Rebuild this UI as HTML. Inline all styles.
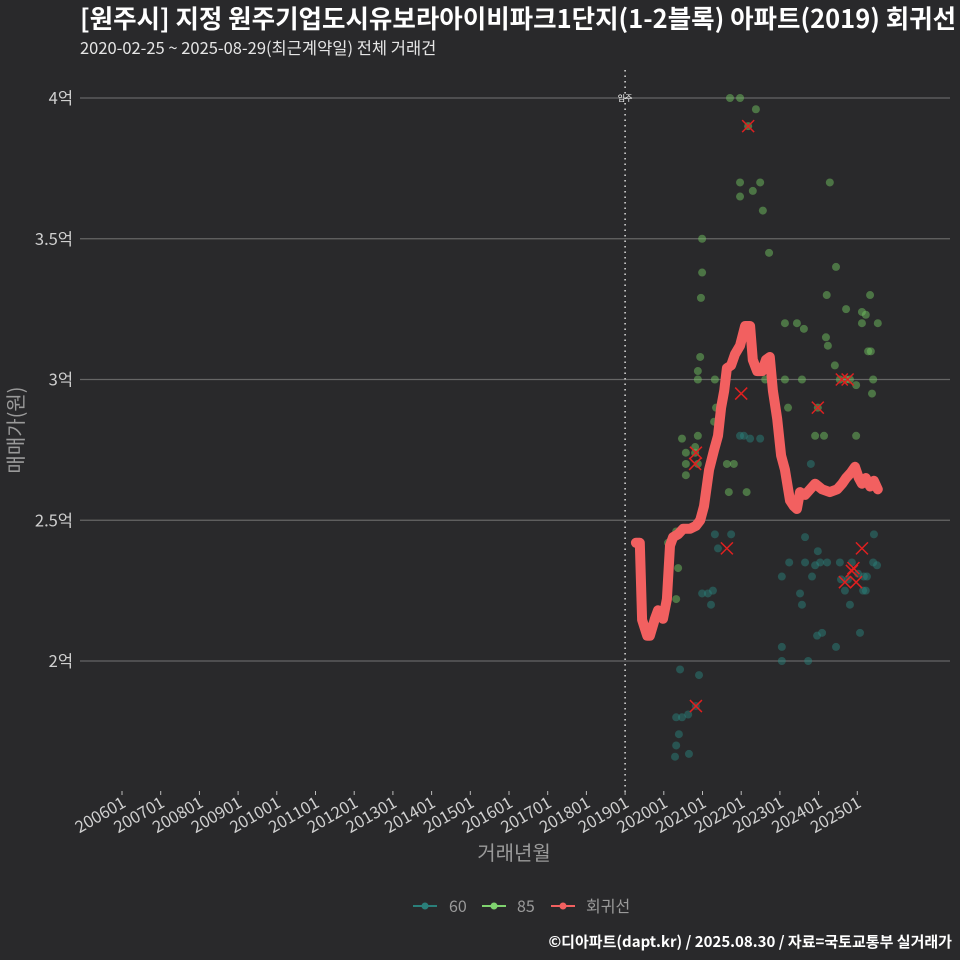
<!DOCTYPE html>
<html><head><meta charset="utf-8"><style>
body{margin:0;background:#29292b;}
svg{display:block;font-family:"Noto Sans CJK KR","Liberation Sans",sans-serif;}
</style></head><body>
<svg id="chart" width="960" height="960" viewBox="0 0 960 960" xmlns="http://www.w3.org/2000/svg">
<rect width="960" height="960" fill="#29292b"/>
<text x="80" y="28" fill="#ffffff" font-size="25.5" font-weight="bold">[원주시] 지정 원주기업도시유보라아이비파크1단지(1-2블록) 아파트(2019) 회귀선</text>
<text x="80" y="54" fill="#e6e6e6" font-size="16.5">2020-02-25 ~ 2025-08-29(최근계약일) 전체 거래건</text>
<g id="grid"></g>
<g id="xaxis"></g>
<g id="marks"></g>
<text x="514" y="860" fill="#9a9a9a" font-size="20" text-anchor="middle">거래년월</text>
<text transform="translate(23,430) rotate(-90)" fill="#9a9a9a" font-size="20" text-anchor="middle">매매가(원)</text>
<g>
<g><line x1="413" y1="906" x2="437" y2="906" stroke="#2a7f7a" stroke-width="2"/><circle cx="425" cy="906" r="3.5" fill="#2a7f7a"/><text x="449" y="912" fill="#9a9a9a" font-size="16">60</text></g>
<g><line x1="482" y1="906" x2="506" y2="906" stroke="#7fd36f" stroke-width="2"/><circle cx="494" cy="906" r="3.5" fill="#7fd36f"/><text x="517" y="912" fill="#9a9a9a" font-size="16">85</text></g>
<g><line x1="551" y1="906" x2="575" y2="906" stroke="#f26060" stroke-width="2"/><circle cx="563" cy="906" r="3.5" fill="#f26060"/><text x="586" y="912" fill="#9a9a9a" font-size="16">회귀선</text></g>
</g>
<text x="952" y="947" fill="#ffffff" font-size="15" font-weight="bold" text-anchor="end">©디아파트(dapt.kr) / 2025.08.30 / 자료=국토교통부 실거래가</text>
</svg>
<script>
const yTicks=[2,2.5,3,3.5,4];
const yTickLabels=["2억","2.5억","3억","3.5억","4억"];
const xTickYears=[2006,2007,2008,2009,2010,2011,2012,2013,2014,2015,2016,2017,2018,2019,2020,2021,2022,2023,2024,2025];
const xTickLabels=["200601","200701","200801","200901","201001","201101","201201","201301","201401","201501","201601","201701","201801","201901","202001","202101","202201","202301","202401","202501"];
const moveInYear=2019;
const g85X=[2020.88,2020.88,2020.94,2020.96,2020.99,2020.99,2021.71,2021.97,2022.38,2022.18,2021.97,2022.49,2021.97,2022.30,2022.56,2022.72,2024.29,2024.45,2024.21,2024.71,2025.12,2025.22,2025.33,2025.53,2025.12,2025.35,2025.28,2025.41,2025.38,2023.13,2023.44,2023.62,2023.13,2023.57,2022.62,2021.32,2021.35,2023.21,2023.98,2024.19,2024.24,2024.42,2024.55,2024.81,2024.71,2024.97,2023.91,2024.14,2024.97,2020.47,2020.88,2020.81,2020.57,2020.88,2020.57,2020.57,2020.81,2021.63,2021.81,2021.68,2022.14,2021.30,2020.32,2020.37,2020.32,2020.11];
const g85Y=[3.0,3.03,3.08,3.29,3.38,3.5,4.0,4.0,3.96,3.9,3.70,3.70,3.65,3.67,3.6,3.45,3.7,3.4,3.3,3.25,3.24,3.23,3.3,3.2,3.2,3.1,3.1,3.0,2.95,3.2,3.2,3.18,3.0,3.0,3.0,3.0,2.9,2.9,2.9,3.15,3.12,3.05,3.0,3.0,3.0,2.98,2.8,2.8,2.8,2.79,2.8,2.76,2.7,2.7,2.66,2.74,2.74,2.7,2.7,2.6,2.6,2.85,2.46,2.33,2.22,2.42];
const g60X=[2021.32,2021.74,2021.40,2021.27,2021.14,2020.99,2021.22,2020.42,2020.91,2020.32,2020.47,2020.63,2020.83,2020.39,2020.32,2020.29,2020.65,2021.97,2022.07,2022.23,2022.49,2023.80,2023.65,2023.98,2023.24,2023.65,2023.91,2024.04,2024.22,2024.55,2024.86,2025.41,2025.51,2025.43,2023.05,2023.83,2024.58,2024.76,2025.17,2025.02,2025.25,2025.15,2024.68,2025.22,2023.57,2023.96,2024.09,2024.45,2024.81,2025.07,2023.05,2023.05,2023.73,2023.52];
const g60Y=[2.45,2.45,2.4,2.25,2.24,2.24,2.2,1.97,1.95,1.8,1.8,1.81,1.84,1.74,1.7,1.66,1.67,2.8,2.8,2.79,2.79,2.7,2.44,2.39,2.35,2.35,2.34,2.35,2.35,2.35,2.35,2.35,2.34,2.45,2.3,2.3,2.29,2.29,2.30,2.31,2.30,2.25,2.25,2.25,2.2,2.09,2.1,2.05,2.2,2.1,2.05,2.0,2.0,2.24];
const crossX=[2022.18,2020.83,2020.81,2022.0,2023.98,2024.6,2024.75,2021.63,2020.83,2024.86,2025.12,2024.68,2024.97,2024.9];
const crossY=[3.9,2.74,2.7,2.95,2.9,3.0,3.0,2.4,1.84,2.32,2.4,2.28,2.28,2.33];
const regX=[2019.28,2019.38,2019.44,2019.57,2019.64,2019.77,2019.85,2019.98,2020.08,2020.16,2020.24,2020.37,2020.50,2020.68,2020.83,2020.94,2021.04,2021.17,2021.30,2021.40,2021.48,2021.56,2021.63,2021.74,2021.84,2021.97,2022.10,2022.23,2022.30,2022.41,2022.54,2022.64,2022.74,2022.82,2022.93,2023.03,2023.13,2023.26,2023.36,2023.44,2023.52,2023.65,2023.78,2023.91,2024.09,2024.29,2024.48,2024.61,2024.71,2024.84,2024.94,2025.04,2025.12,2025.22,2025.33,2025.43,2025.53];
const regY=[2.42,2.42,2.146,2.09,2.09,2.15,2.18,2.15,2.22,2.41,2.44,2.45,2.47,2.47,2.48,2.50,2.55,2.68,2.75,2.80,2.90,2.96,3.04,3.05,3.09,3.12,3.19,3.19,3.07,3.03,3.03,3.07,3.08,2.96,2.86,2.73,2.68,2.57,2.55,2.54,2.60,2.59,2.61,2.63,2.61,2.60,2.61,2.63,2.65,2.67,2.69,2.65,2.63,2.65,2.62,2.64,2.61];

const NS="http://www.w3.org/2000/svg";
function xs(t){return 122+(t-2006)*38.7;}
function ys(v){return 98+(4-v)*281.5;}
function mk(tag,attrs,parent){const e=document.createElementNS(NS,tag);for(const k in attrs)e.setAttribute(k,attrs[k]);parent.appendChild(e);return e;}
const grid=document.getElementById('grid'),xa=document.getElementById('xaxis'),marks=document.getElementById('marks');
yTicks.forEach((v,i)=>{
  const l=mk('line',{x1:80,x2:950,y1:ys(v),y2:ys(v),stroke:'#666',"stroke-width":1.2},grid);
  
  
  const t=mk('text',{x:73,y:ys(v)+6,fill:'#d0d0d0',"font-size":16.5,"text-anchor":"end"},grid);
  t.textContent=yTickLabels[i];
  
  
});
xTickYears.forEach((yr,i)=>{
  const x=xs(yr);
  const tk=mk('line',{x1:x,x2:x,y1:791,y2:795,stroke:'#bbb'},xa);
  
  
  const t=mk('text',{transform:`translate(${x+5},${806}) rotate(-30)`,fill:'#d0d0d0',"font-size":16.5,"text-anchor":"end"},xa);
  t.textContent=xTickLabels[i];
  
  
});
const mv=mk('line',{x1:xs(moveInYear),x2:xs(moveInYear),y1:70,y2:795,stroke:'#ddd',"stroke-width":1.5,"stroke-dasharray":"1.5,4"},grid);


const mvt=mk('text',{x:xs(moveInYear),y:101,fill:'#fff',"font-size":8,"text-anchor":"middle"},grid);
mvt.textContent='입주';


g60X.forEach((x,i)=>{
  const c=mk('circle',{cx:xs(x),cy:ys(g60Y[i]),r:4,fill:'#2a7f7a',"fill-opacity":0.5},marks);
  
  
});
g85X.forEach((x,i)=>{
  const c=mk('circle',{cx:xs(x),cy:ys(g85Y[i]),r:4,fill:'#6fbf5f',"fill-opacity":0.5},marks);
  
  
});
crossX.forEach((x,i)=>{
  const cx=xs(x),cy=ys(crossY[i]);
  const p=mk('path',{d:`M${cx-6},${cy-6}L${cx+6},${cy+6}M${cx-6},${cy+6}L${cx+6},${cy-6}`,stroke:'#e02020',"stroke-width":1.5},marks);
  
  
});
const d=regX.map((x,i)=>(i?'L':'M')+xs(x).toFixed(1)+','+ys(regY[i]).toFixed(1)).join('');
const rl=mk('path',{d:d,fill:'none',stroke:'#f26060',"stroke-width":10,"stroke-linejoin":"round","stroke-linecap":"round"},marks);


</script>
</body></html>
